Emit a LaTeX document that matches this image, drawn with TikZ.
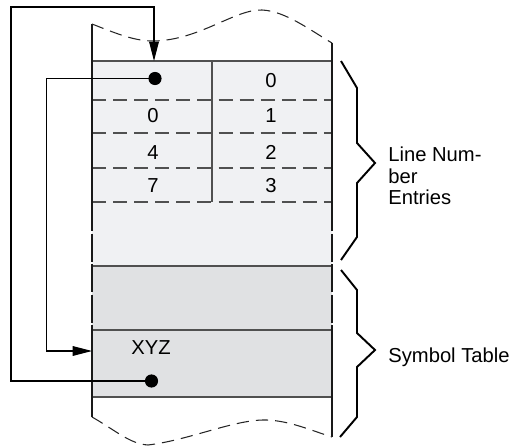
\documentclass[tikz,border=0pt]{standalone}
\usepackage{fontspec}
\setmainfont{Liberation Sans}
\usetikzlibrary{arrows.meta,calc}
\definecolor{lnfill}{RGB}{240,241,243}
\definecolor{stfill}{RGB}{224,225,227}
\definecolor{gridc}{RGB}{80,80,80}
\tikzset{
  edge/.style={line width=1.1pt, black!90},
  edgebrk/.style={edge, dash pattern=on 16pt off 1.4pt},
  row/.style={draw=gridc, line width=0.6pt},
  rowbrk/.style={row, dash pattern=on 8pt off 4pt},
  wave/.style={draw=black!85, line width=0.6pt, dash pattern=on 7pt off 4pt},
  num/.style={font=\fontsize{11.5}{13}\selectfont, inner sep=0pt},
  ptrdot/.style={circle, fill=black, inner sep=0pt, minimum size=7.5pt},
  ptr/.style={-{Triangle[length=11pt,width=5.5pt]}, line width=0.6pt},
  brc/.style={line width=1.1pt, line join=miter},
  lbl/.style={font=\fontsize{11.5}{12.3}\selectfont, align=left, inner sep=0pt, anchor=west},
}
\begin{document}
\begin{tikzpicture}[x=0.02cm, y=-0.02cm]
\useasboundingbox (0,0) rectangle (517,446);
% memory areas
\fill[lnfill] (92,61) rectangle (332,266);
\fill[stfill] (92,266) rectangle (332,397);
\draw[row] (92,61) -- (332,61);
\draw[rowbrk] (92,100) -- (332,100);
\draw[rowbrk] (92,133) -- (332,133);
\draw[rowbrk] (92,168) -- (332,168);
\draw[rowbrk] (92,202) -- (332,202);
\draw[row] (212,61) -- (212,202);
\draw[row] (92,266) -- (332,266);
\draw[row] (92,330) -- (332,330);
\draw[row] (92,397) -- (332,397);
% column edges
\draw[edge] (92,24) -- (92,203);
\draw[edgebrk] (92,203) -- (92,330);
\draw[edge] (92,330) -- (92,417);
\draw[edge] (332,43) -- (332,203);
\draw[edgebrk] (332,203) -- (332,330);
\draw[edge] (332,330) -- (332,437);
% torn ends
\draw[wave] (92,24) .. controls (120,35) and (135,41) .. (154,41)
  .. controls (200,40) and (235,9) .. (262,10)
  .. controls (285,11) and (310,30) .. (332,43);
\draw[wave] (92,417) .. controls (115,430) and (130,444) .. (148,445)
  .. controls (190,440) and (235,419) .. (267,420)
  .. controls (290,421) and (310,430) .. (332,437);
% entries
\node[num] (n0) at (271,80.5) {0};
\node[num] (l1) at (153,116) {0};
\node[num] (n1) at (271,116) {1};
\node[num] (l2) at (153,152.5) {4};
\node[num] (n2) at (271,152.5) {2};
\node[num] (l3) at (153,186) {7};
\node[num] (n3) at (271,186) {3};
\node[num] (sym) at (151,348) {XYZ};
% pointers
\node[ptrdot] (ptrA) at (155,78.5) {};
\node[ptrdot] (ptrB) at (151.5,381) {};
\coordinate (entry) at (154,61);
\coordinate (symin) at (92,351);
\draw[ptr] (ptrB.center) -| (11,7) -| (entry);
\draw[ptr] (ptrA.center) -| (46.5,351) -- (symin);
% braces
\coordinate (lntip) at (375,163);
\coordinate (sttip) at (375,350);
\draw[brc] (341,61) -- (357,88) -- (357,143) -- (lntip) -- (357,183) -- (357,237) -- (341,260);
\draw[brc] (341,270) -- (357,290) -- (357,333) -- (sttip) -- (357,367) -- (357,417) -- (340,437);
\node[lbl] (lnlbl) at (388,176) {Line Num-\\ber\\Entries};
\node[lbl] (stlbl) at (388,357) {Symbol Table};
\end{tikzpicture}
\end{document}
